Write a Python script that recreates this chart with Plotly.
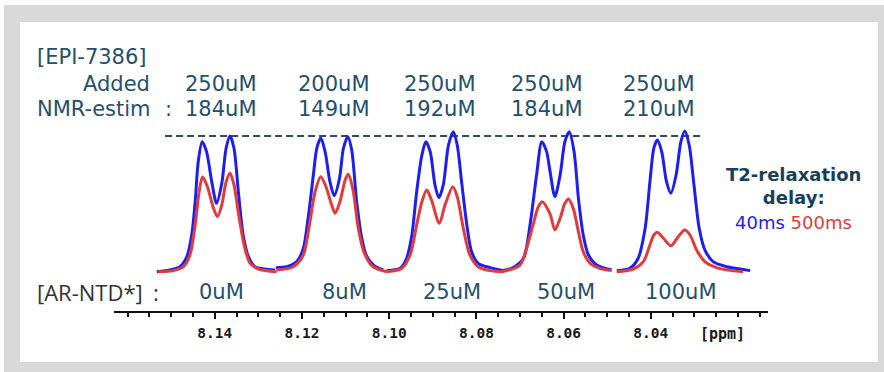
import plotly.graph_objects as go

# ---------------- data ----------------
ar_ntd_conc = ["0uM", "8uM", "25uM", "50uM", "100uM"]
epi_added = ["250uM", "200uM", "250uM", "250uM", "250uM"]
epi_nmr_estim = ["184uM", "149uM", "192uM", "184uM", "210uM"]

major_ticks = [8.14, 8.12, 8.10, 8.08, 8.06, 8.04]
major_tick_text = ["8.14", "8.12", "8.10", "8.08", "8.06", "8.04"]

dash_ppm = [8.1514, 8.0280]
dash_level = [100, 100]

# 0uM
ppm_40_0 = [8.1533, 8.1503, 8.1480, 8.1464, 8.1453, 8.1445, 8.1438, 8.1429, 8.1419, 8.1407, 8.1396,
            8.1384, 8.1374, 8.1365, 8.1356, 8.1346, 8.1335, 8.1323, 8.1308, 8.1285, 8.1262]
int_40_0 = [0.2, 1.5, 3.9, 11.3, 27.2, 51.7, 81.1, 95.8, 88.5, 66.4, 50.5,
            65.2, 91.2, 100.0, 91.0, 59.0, 27.2, 11.3, 3.9, 2.2, 1.5]
ppm_500_0 = [8.1530, 8.1495, 8.1472, 8.1457, 8.1445, 8.1436, 8.1428, 8.1417, 8.1403, 8.1394,
             8.1384, 8.1374, 8.1365, 8.1356, 8.1344, 8.1331, 8.1319, 8.1300, 8.1258]
int_500_0 = [0.2, 1.0, 3.9, 12.5, 34.6, 59.0, 70.1, 62.7, 46.8, 40.7,
             49.3, 66.4, 72.6, 64.0, 39.5, 17.4, 6.4, 2.2, 0.2]

# 8uM
ppm_40_8 = [8.1260, 8.1235, 8.1212, 8.1197, 8.1186, 8.1174, 8.1166, 8.1157, 8.1147, 8.1136,
            8.1126, 8.1114, 8.1105, 8.1095, 8.1086, 8.1075, 8.1063, 8.1052, 8.1036, 8.1014]
int_40_8 = [3.2, 3.9, 7.6, 17.4, 39.5, 71.3, 91.0, 98.5, 88.5, 66.4,
            56.1, 68.9, 91.0, 99.5, 89.7, 52.9, 25.0, 11.8, 5.1, 1.5]
ppm_500_8 = [8.1258, 8.1220, 8.1197, 8.1183, 8.1170, 8.1157, 8.1145, 8.1132, 8.1124, 8.1113,
             8.1101, 8.1094, 8.1083, 8.1071, 8.1058, 8.1039, 8.1006]
int_500_8 = [1.5, 3.9, 12.5, 34.6, 59.0, 70.1, 62.7, 49.3, 43.2, 51.7,
             67.6, 71.8, 60.3, 32.4, 14.7, 4.4, 0.2]

# 25uM
ppm_40_25 = [8.1006, 8.0975, 8.0960, 8.0948, 8.0937, 8.0925, 8.0916, 8.0906, 8.0895, 8.0886,
             8.0876, 8.0864, 8.0853, 8.0844, 8.0834, 8.0822, 8.0811, 8.0796, 8.0769, 8.0738]
int_40_25 = [1.0, 2.7, 10.1, 27.2, 59.0, 86.0, 95.8, 88.5, 64.0, 54.6,
             64.0, 93.4, 103.2, 93.4, 66.4, 34.6, 14.9, 6.4, 3.2, 1.0]
ppm_500_25 = [8.1006, 8.0971, 8.0952, 8.0937, 8.0925, 8.0914, 8.0903, 8.0885, 8.0872, 8.0854,
              8.0844, 8.0830, 8.0815, 8.0796, 8.0769, 8.0738]
int_500_25 = [0.2, 2.7, 12.5, 34.6, 51.7, 60.3, 52.9, 35.8, 49.3, 62.7,
              55.4, 32.1, 12.5, 3.9, 1.0, 0.2]

# 50uM
ppm_40_50 = [8.0742, 8.0718, 8.0692, 8.0677, 8.0662, 8.0650, 8.0639, 8.0631, 8.0620, 8.0608,
             8.0597, 8.0587, 8.0576, 8.0566, 8.0555, 8.0543, 8.0524, 8.0490]
int_40_50 = [1.0, 2.9, 10.1, 34.6, 71.3, 95.8, 88.5, 73.8, 55.4, 71.3,
             95.8, 103.2, 88.5, 54.2, 27.2, 12.5, 5.1, 1.5]
ppm_500_50 = [8.0742, 8.0700, 8.0685, 8.0670, 8.0658, 8.0649, 8.0631, 8.0620, 8.0608, 8.0597,
              8.0589, 8.0578, 8.0566, 8.0555, 8.0539, 8.0517, 8.0490]
int_500_50 = [0.2, 5.1, 17.4, 34.6, 48.0, 51.7, 42.6, 30.9, 39.5, 50.5,
              53.7, 46.8, 29.6, 14.9, 6.4, 2.7, 1.0]

# 100uM
ppm_40_100 = [8.0478, 8.0448, 8.0429, 8.0413, 8.0402, 8.0393, 8.0385, 8.0375, 8.0364, 8.0354,
              8.0342, 8.0331, 8.0322, 8.0312, 8.0301, 8.0289, 8.0276, 8.0257, 8.0226, 8.0195, 8.0172]
int_40_100 = [1.0, 2.7, 10.1, 32.1, 66.4, 91.0, 97.1, 88.5, 66.4, 57.9,
              71.3, 95.8, 103.7, 93.4, 64.0, 32.1, 16.2, 7.6, 3.9, 2.2, 1.0]
ppm_500_100 = [8.0478, 8.0440, 8.0417, 8.0402, 8.0393, 8.0385, 8.0371, 8.0354, 8.0337, 8.0322,
               8.0310, 8.0295, 8.0276, 8.0249, 8.0214, 8.0188]
int_500_100 = [0.2, 2.2, 7.6, 19.9, 27.2, 29.2, 24.8, 19.3, 26.0, 30.9,
               27.2, 16.2, 7.6, 3.2, 1.0, 0.2]

spectra_40 = [(ppm_40_0, int_40_0), (ppm_40_8, int_40_8), (ppm_40_25, int_40_25),
              (ppm_40_50, int_40_50), (ppm_40_100, int_40_100)]
spectra_500 = [(ppm_500_0, int_500_0), (ppm_500_8, int_500_8), (ppm_500_25, int_500_25),
               (ppm_500_50, int_500_50), (ppm_500_100, int_500_100)]

# ---------------- layout geometry ----------------
W, H = 884, 372
L, R, T, B = 114, 768, 30, 311
X_RANGE = [8.16312, 8.01312]
Y_RANGE = [-28.68, 177.94]

BLUE = "#1e1ef0"
RED = "#e23b3b"
TXT = "#24506e"
TXT_DARK = "#173f5a"


def pxx(px):
    return (px - L) / (R - L)


def pxy(py):
    return (B - py) / (B - T)


fig = go.Figure()

fig.add_trace(go.Scatter(x=dash_ppm, y=dash_level, mode="lines",
                         line=dict(color="#2d4b62", width=2, dash="7px,4px"),
                         hoverinfo="skip", showlegend=False))

for px_, iy in spectra_40:
    fig.add_trace(go.Scatter(x=px_, y=iy, mode="lines",
                             line=dict(color=BLUE, width=3, shape="spline", smoothing=0.8),
                             showlegend=False, name="40ms"))
for px_, iy in spectra_500:
    fig.add_trace(go.Scatter(x=px_, y=iy, mode="lines",
                             line=dict(color=RED, width=3, shape="spline", smoothing=0.8),
                             showlegend=False, name="500ms"))

shapes = [
    dict(type="rect", xref="paper", yref="paper", x0=pxx(4), x1=pxx(884), y0=pxy(5), y1=pxy(372),
         fillcolor="#d9d9d9", line=dict(width=0), layer="below"),
    dict(type="rect", xref="paper", yref="paper", x0=pxx(20), x1=pxx(878), y0=pxy(22), y1=pxy(362),
         fillcolor="white", line=dict(width=0), layer="below"),
]

DV = "DejaVu Sans, Verdana, sans-serif"
ann = []


def text(s, px, py, size=21, color=TXT, xanchor="center", family=DV, weight="normal"):
    ann.append(dict(text=s, x=pxx(px), y=pxy(py), xref="paper", yref="paper",
                    showarrow=False, xanchor=xanchor, yanchor="middle",
                    font=dict(family=family, size=size, color=color, weight=weight)))


text("[EPI-7386]", 35, 57, xanchor="left")
text("Added", 152, 84, xanchor="right")
text("NMR-estim", 35, 109, xanchor="left")
text(":", 168, 109)

col_x = [221, 334, 440, 547, 659]
for cx, a, n in zip(col_x, epi_added, epi_nmr_estim):
    text(a, cx, 84)
    text(n, cx, 109)

text("[AR-NTD*]", 35, 292, size=22, color="#333333", xanchor="left", family="Open Sans, sans-serif")
text(":", 156, 292, size=22, color="#333333", family="Open Sans, sans-serif")
bot_x = [221, 344, 452, 566, 681]
for cx, c in zip(bot_x, ar_ntd_conc):
    text(c, cx, 292)

text("T2-relaxation<br>delay:", 793, 186, size=18, color=TXT_DARK, weight="bold")
text(f"<span style='color:{BLUE}'>40ms</span> <span style='color:{RED}'>500ms</span>", 794, 222, size=18)

text("[ppm]", 722, 334, size=15, color="#1a1a1a", family="DejaVu Sans Mono, monospace", weight="bold")

fig.update_layout(
    width=W, height=H,
    margin=dict(l=L, r=W - R, t=T, b=H - B, pad=0),
    paper_bgcolor="white", plot_bgcolor="rgba(0,0,0,0)",
    shapes=shapes, annotations=ann, showlegend=False,
    xaxis=dict(range=X_RANGE, showgrid=False, zeroline=False,
               showline=True, linecolor="#111111", linewidth=2,
               tickmode="array", tickvals=major_ticks, ticktext=major_tick_text,
               ticks="outside", ticklen=6, tickwidth=2, tickcolor="#111111",
               tickfont=dict(family="DejaVu Sans Mono, monospace", size=14.5, color="#1a1a1a", weight="bold"),
               minor=dict(tickmode="linear", tick0=8.0, dtick=0.005, ticks="outside",
                          ticklen=4, tickwidth=2, tickcolor="#111111", showgrid=False),
               ticklabelstandoff=2),
    yaxis=dict(range=Y_RANGE, visible=False, showgrid=False, zeroline=False),
)

fig.write_html("out.html", config={"displayModeBar": False},
               post_script="document.body.style.margin='0';document.body.style.padding='0';"
                           "document.body.style.overflow='hidden';")
